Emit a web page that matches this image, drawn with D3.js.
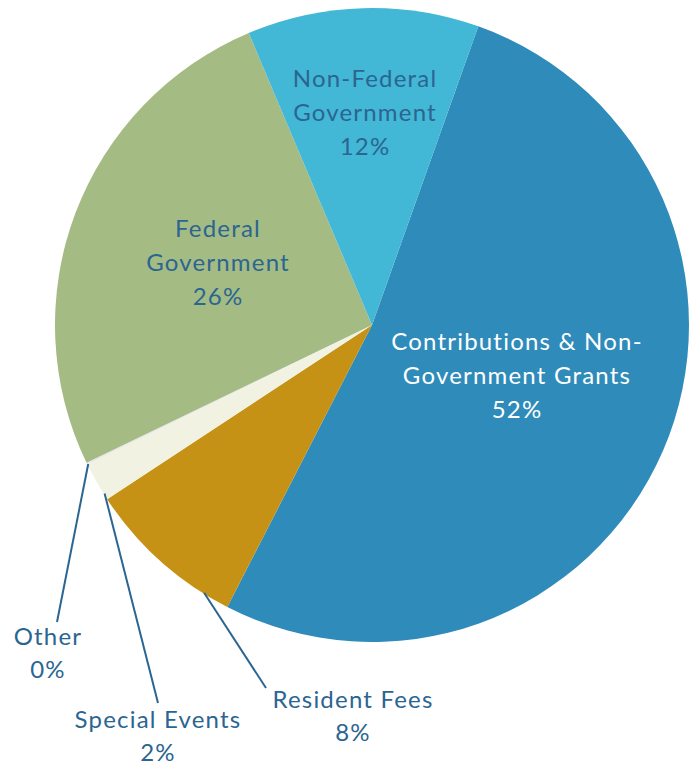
<!DOCTYPE html>
<html>
<head>
<meta charset="utf-8">
<script src="https://cdn.jsdelivr.net/npm/d3@7"></script>
<style>
  html, body { margin: 0; padding: 0; background: #ffffff; }
  svg { display: block; }
</style>
</head>
<body>
<svg id="chart" width="696" height="767"></svg>
<script>
// ---- data ----
const categories = ["Contributions & Non-Government Grants", "Resident Fees", "Special Events", "Other", "Federal Government", "Non-Federal Government"];
const values = [52.1, 8.2, 2.0, 0.1, 25.8, 11.8];
const percentLabels = ["52%", "8%", "2%", "0%", "26%", "12%"];
const labelLines = [["Contributions & Non-", "Government Grants"], ["Resident Fees"], ["Special Events"], ["Other"], ["Federal", "Government"], ["Non-Federal", "Government"]];
const colors = ["#2e8bba", "#c69215", "#f2f2e3", "#e8e8e8", "#a4bc84", "#42b7d6"];

// ---- layout (positions/styles only) ----
const W = 696, H = 767;
const cx = 372, cy = 325, R = 317;
const startDeg = 19.6;
const textDark = "#2b6591";
const labelLayout = [
  { inside: true, pos: [517, 376], fill: "#ffffff" },
  { inside: false, edgeDeg: 212.1, end: [266, 688], pos: [353, 700] },
  { inside: false, edgeDeg: 237.8, end: [158, 703], pos: [158, 720] },
  { inside: false, edgeDeg: 243.9, end: [57, 622], pos: [48, 637] },
  { inside: true, pos: [218, 263], fill: textDark },
  { inside: true, pos: [365, 113], fill: textDark }
];
const lineH = 34;
const fontSize = 24;
const letterSpacing = 1.2;
const fontFamily = "'Lato', 'Open Sans', sans-serif";

const svg = d3.select("#chart");
const g = svg.append("g").attr("transform", `translate(${cx},${cy})`);

const rad = d => d * Math.PI / 180;
const pie = d3.pie().sort(null).value(d => d)
  .startAngle(rad(startDeg)).endAngle(rad(startDeg) + 2 * Math.PI);
const arcs = pie(values);
const arc = d3.arc().innerRadius(0).outerRadius(R);

g.selectAll("path.slice").data(arcs).enter().append("path")
  .attr("class", "slice")
  .attr("d", arc)
  .attr("fill", (d, i) => colors[i]);

// leader lines
labelLayout.forEach((L, i) => {
  if (L.inside) return;
  const p = d3.pointRadial(rad(L.edgeDeg), R - 1);
  svg.append("line")
    .attr("x1", cx + p[0]).attr("y1", cy + p[1])
    .attr("x2", L.end[0]).attr("y2", L.end[1])
    .attr("stroke", textDark).attr("stroke-width", 2);
});

// labels
labelLayout.forEach((L, i) => {
  const lines = labelLines[i].concat([percentLabels[i]]);
  const n = lines.length;
  const fill = L.inside ? L.fill : textDark;
  const t = svg.append("text")
    .attr("text-anchor", "middle")
    .attr("font-family", fontFamily)
    .attr("font-size", fontSize)
    .attr("letter-spacing", letterSpacing)
    .attr("fill", fill);
  lines.forEach((s, k) => {
    let y;
    if (L.inside) y = L.pos[1] + (k - (n - 1) / 2) * lineH;
    else y = L.pos[1] + k * (lineH - 1);
    t.append("tspan").attr("x", L.pos[0]).attr("y", y).attr("dy", "0.35em").text(s);
  });
});
</script>
</body>
</html>
